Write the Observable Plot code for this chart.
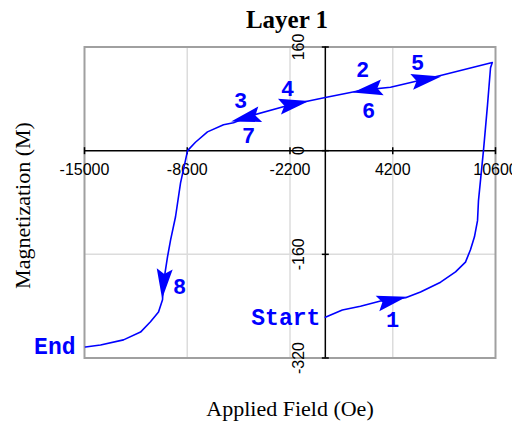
<!DOCTYPE html>
<html><head><meta charset="utf-8">
<script src="https://cdn.jsdelivr.net/npm/d3@7"></script>
<script src="https://cdn.jsdelivr.net/npm/@observablehq/plot@0.6"></script>
<style>body{margin:0;background:#fff;overflow:hidden;}</style>
</head><body><div id="chart"></div>
<script>
// ---- data ----
const xTicks = [-15000, -8600, -2200, 4200, 10600];
const yTicks = [160, 0, -160, -320];
const gridX = [-8600, -2200, 4200];
const gridY = [-160];

// hysteresis path: Start -> right -> peak -> upper branch left -> down -> End
const fieldOe = [0, 1060, 2190, 3440, 5000, 5930, 7180, 8110, 8730, 9040, 9290, 9480, 9540, 9850, 10100, 10290, 10400,
  7180, 4060, 2190, 0, -2170, -4470, -5720, -6340, -7340, -8090, -8580, -9020, -9330, -9640, -9830, -10080, -10140,
  -10390, -10890, -11510, -12570, -14000, -14940];
const magM = [-257, -246, -240, -232, -227, -218, -203, -187, -172, -153, -133, -108, -77, 0, 70, 128, 136,
  116, 98, 93, 82, 71, 55, 43, 40, 29, 13, 0, -50, -102, -138, -164, -204, -230,
  -249, -264, -280, -292, -300, -303];

// arrowheads on the path (heading in degrees, clockwise from +x on screen)
const arrowX = [4100, 2690, -4900, -2000, 6240, -10080];
const arrowY = [-231, 94, 51, 72, 110, -204];
const arrowHeading = [-13, 170, 166, -11, -10, 95];

// step numbers
const stepText = ["1", "2", "3", "4", "5", "6", "7", "8"];
const stepX = [4185, 2317, -5283, -2355, 5743, 2690, -4785, -9082];
const stepY = [-262, 124, 77, 96, 136, 62, 23, -210];

const startPoint = {x: 0, y: -257, text: "Start"};
const endPoint = {x: -15000, y: -302, text: "End"};

// ---- build ----
const curve = fieldOe.map((x, i) => ({x, y: magM[i]}));
const arrows = arrowX.map((x, i) => ({x, y: arrowY[i], a: arrowHeading[i]}));
const steps = stepText.map((t, i) => ({t, x: stepX[i], y: stepY[i]}));

const arrowHead = {draw(c) { c.moveTo(16, 0); c.lineTo(-14, -8); c.lineTo(-9, 0); c.lineTo(-14, 8); c.closePath(); }};
const vTick = {draw(c) { c.moveTo(0, -3.5); c.lineTo(0, 3.5); }};
const hTick = {draw(c) { c.moveTo(-3.5, 0); c.lineTo(3.5, 0); }};

const BLUE = "#0000ff";
const serif = "Liberation Serif, Times New Roman, serif";
const sans = "Liberation Sans, Arial, sans-serif";
const mono = "Liberation Mono, Courier New, monospace";

const chart = Plot.plot({
  width: 512,
  height: 424,
  marginTop: 46.5,
  marginLeft: 84,
  marginRight: 17,
  marginBottom: 66.5,
  style: {background: "white", overflow: "visible"},
  x: {domain: [-15000, 10600], axis: null},
  y: {domain: [-320, 160], axis: null},
  marks: [
    Plot.ruleX(gridX, {stroke: "#dcdcdc", strokeWidth: 1.5}),
    Plot.ruleY(gridY, {stroke: "#dcdcdc", strokeWidth: 1.5}),
    Plot.frame({stroke: "#a0a0a0", strokeWidth: 2}),
    Plot.ruleY([0], {stroke: "black", strokeWidth: 1.5}),
    Plot.ruleX([0], {stroke: "black", strokeWidth: 1.5}),
    Plot.dot(xTicks, {x: d => d, y: () => 0, symbol: vTick, stroke: "black", strokeWidth: 1.5, fill: "none"}),
    Plot.dot(yTicks, {x: () => 0, y: d => d, symbol: hTick, stroke: "black", strokeWidth: 1.5, fill: "none"}),
    Plot.text(xTicks, {x: d => d, y: () => 0, text: d => String(d), dy: 19.5, fontSize: 16, fontFamily: sans, fill: "black"}),
    Plot.text(yTicks, {x: () => 0, y: d => d, text: d => String(d), rotate: -90, dx: -26, fontSize: 16, fontFamily: sans, fill: "black"}),
    Plot.line(curve, {x: "x", y: "y", stroke: BLUE, strokeWidth: 1.6}),
    Plot.dot(arrows, {x: "x", y: "y", rotate: "a", symbol: arrowHead, fill: BLUE, stroke: "none"}),
    Plot.text(steps, {x: "x", y: "y", text: "t", fontSize: 22, fontWeight: "bold", fontFamily: mono, fill: BLUE}),
    Plot.text([startPoint], {x: "x", y: "y", text: "text", textAnchor: "end", dx: -5, fontSize: 23, fontWeight: "bold", fontFamily: mono, fill: BLUE}),
    Plot.text([endPoint], {x: "x", y: "y", text: "text", textAnchor: "end", dx: -9, fontSize: 23, fontWeight: "bold", fontFamily: mono, fill: BLUE}),
    Plot.text(["Layer 1"], {frameAnchor: "top", textAnchor: "middle", lineAnchor: "middle", dy: -27, dx: -3, fontSize: 25, fontWeight: "bold", fontFamily: serif, fill: "black"}),
    Plot.text(["Applied Field (Oe)"], {frameAnchor: "bottom", textAnchor: "middle", lineAnchor: "middle", dy: 50.5, fontSize: 22, fontFamily: serif, fill: "black"}),
    Plot.text(["Magnetization (M)"], {frameAnchor: "left", textAnchor: "middle", lineAnchor: "middle", rotate: -90, dx: -62, dy: 3, fontSize: 22, fontFamily: serif, fill: "black"})
  ]
});
document.getElementById("chart").appendChild(chart);
</script>
</body></html>
